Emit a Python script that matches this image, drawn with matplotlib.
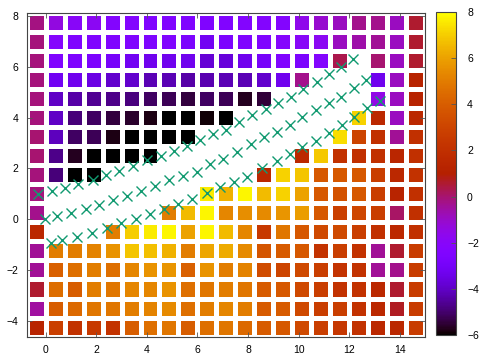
"""
plot.py
=======

Masked heat map on a 0.75-unit grid (gnuplot palette) with three
rows of cross markers running through the masked band.

Output:
    out.png
"""

from __future__ import annotations

import matplotlib

matplotlib.use("Agg")
import matplotlib.pyplot as plt  # noqa: E402
import numpy as np  # noqa: E402

nan = float("nan")

# cell centres (0.75 pitch)
x_centers = [-0.375 + 0.75 * i for i in range(21)]
y_centers = [7.75 - 0.75 * j for j in range(17)]

# cell values, top row first (y = 7.75 ... -4.25); nan = masked cell
z_rows = [
    [-0.2, -1.4, -2.0, -1.8, -2.3, -2.3, -2.5, -2.5, -2.5, -2.5, -2.4, -2.3, -2.3, -2.3, -1.6, -1.1, -0.9, -0.3, -0.3, -0.9, 0.6],
    [-0.1, -2.2, -2.5, -2.5, -2.5, -2.5, -2.6, -2.5, -2.7, -3.2, -2.7, -2.5, -2.5, -2.2, -2.0, -1.8, -0.9, -0.6, -0.4, -0.9, 0.6],
    [-0.1, -2.5, -2.6, -2.7, -2.9, -3.2, -3.3, -3.3, -3.3, -3.8, -3.7, -3.3, -2.9, -2.5, -2.7, -2.3, 0.3, nan, 0.0, -0.9, 0.6],
    [-0.1, -3.2, -3.3, -3.5, -3.9, -3.9, -4.2, -4.2, -4.4, -4.3, -4.2, -4.2, -3.9, -3.3, -0.3, nan, nan, nan, -3.3, -0.9, 1.2],
    [-0.1, -4.0, -4.4, -4.6, -4.7, -4.8, -5.1, -5.2, -5.4, -5.1, -5.2, -5.7, -5.5, nan, nan, nan, nan, nan, -1.5, -0.9, 1.2],
    [-0.1, -4.0, -4.9, -5.1, -5.4, -5.6, -5.8, -6.0, -6.0, -5.9, -6.0, nan, nan, nan, nan, nan, nan, 7.1, 1.5, -0.9, 1.5],
    [0.0, -4.1, -5.1, -5.2, -5.8, -6.0, -6.0, -6.0, -6.0, nan, nan, nan, nan, nan, nan, nan, 7.3, 3.0, 2.0, -0.4, 2.0],
    [0.0, -4.7, -5.7, -6.0, -6.0, -6.0, -6.0, nan, nan, nan, nan, nan, nan, nan, 1.5, 6.9, 2.1, 2.0, 2.0, 1.4, 2.0],
    [-0.1, -4.9, -6.0, -6.0, nan, nan, nan, nan, nan, nan, nan, nan, 1.5, 7.1, 6.8, 3.8, 3.8, 3.8, 2.7, 1.5, 2.1],
    [-0.1, nan, nan, nan, nan, nan, nan, nan, nan, 7.6, 6.4, 7.8, 6.6, 7.1, 6.0, 3.8, 3.6, 3.8, 2.7, 1.3, 2.0],
    [-0.3, nan, nan, nan, nan, nan, nan, 5.0, 6.6, 7.8, 5.3, 5.5, 5.4, 5.7, 5.9, 3.8, 2.8, 3.1, 2.7, 0.1, 2.0],
    [1.5, nan, nan, nan, 5.0, 7.0, 7.6, 7.8, 6.0, 7.8, 6.6, 5.3, 2.5, 4.8, 3.8, 3.2, 3.2, 2.7, 2.0, 1.6, 2.0],
    [-0.4, 5.0, 5.0, 5.2, 5.6, 6.8, 6.7, 6.4, 5.0, 6.1, 6.2, 5.4, 3.7, 3.9, 3.8, 2.2, 2.7, 2.1, -0.4, 0.6, 2.6],
    [-0.4, 4.1, 4.6, 5.0, 4.6, 5.3, 5.6, 5.7, 4.1, 5.6, 5.0, 5.2, 3.3, 3.0, 3.2, 2.7, 2.2, 2.1, -0.4, -0.3, 2.6],
    [0.6, 4.5, 4.0, 5.0, 4.8, 5.3, 5.3, 5.6, 4.6, 4.8, 5.0, 4.8, 3.9, 3.8, 3.2, 2.7, 2.1, 2.1, 1.5, 0.6, 2.6],
    [-0.5, 4.0, 4.4, 4.8, 4.8, 5.0, 5.2, 5.4, 4.6, 5.0, 5.3, 5.0, 3.9, 3.9, 3.2, 2.7, 2.7, 2.1, 1.5, 0.7, 2.6],
    [1.3, 2.8, 2.1, 2.5, 2.2, 4.0, 4.6, 4.8, 4.0, 4.6, 4.8, 4.4, 3.9, 3.8, 3.2, 2.7, 2.4, 2.1, 1.5, 1.5, 2.6],
]

# the three rows of cross markers
top_x = [-0.29, 0.24, 0.76, 1.29, 1.86, 2.38, 2.91, 3.47, 4.02, 4.57, 5.06, 5.59, 6.09,
         6.62, 7.12, 7.64, 8.17, 8.70, 9.19, 9.69, 10.19, 10.72, 11.20, 11.66, 12.17]
top_y = [1.00, 1.11, 1.24, 1.40, 1.56, 1.73, 1.90, 2.08, 2.32, 2.48, 2.69, 2.87, 3.11,
         3.34, 3.50, 3.84, 4.10, 4.33, 4.56, 4.82, 5.11, 5.41, 5.72, 6.00, 6.30]
mid_x = [-0.03, 0.46, 0.99, 1.58, 2.11, 2.68, 3.23, 3.76, 4.31, 4.88, 5.44, 6.00, 6.48,
         7.01, 7.58, 8.11, 8.63, 9.13, 9.66, 10.15, 10.68, 11.20, 11.66, 12.19, 12.65]
mid_y = [0.00, 0.13, 0.26, 0.39, 0.56, 0.76, 0.91, 1.12, 1.31, 1.54, 1.70, 1.87, 2.19,
         2.38, 2.66, 2.96, 3.22, 3.44, 3.71, 4.01, 4.30, 4.56, 4.82, 5.15, 5.48]
bot_x = [0.20, 0.66, 1.25, 1.85, 2.44, 2.97, 3.56, 4.13, 4.68, 5.23, 5.80, 6.37, 6.89,
         7.45, 7.97, 8.57, 9.13, 9.66, 10.15, 10.68, 11.20, 11.73, 12.19, 12.72, 13.21]
bot_y = [-0.95, -0.82, -0.69, -0.53, -0.36, -0.16, -0.01, 0.19, 0.39, 0.60, 0.78, 1.02, 1.26,
         1.48, 1.67, 2.00, 2.30, 2.57, 2.85, 3.09, 3.38, 3.71, 4.01, 4.37, 4.67]

x_ticks = [0, 2, 4, 6, 8, 10, 12, 14]
y_ticks = [-4, -2, 0, 2, 4, 6, 8]
cb_ticks = [-6, -4, -2, 0, 2, 4, 6, 8]

W, H = 484, 357  # output size, pixels


def main() -> None:
    plt.rcParams["font.family"] = ["Liberation Sans", "DejaVu Sans"]
    plt.rcParams["font.size"] = 7.5

    xc = np.array(x_centers)
    yc = np.array(y_centers)
    z = np.ma.masked_invalid(np.array(z_rows, dtype=float))
    x_edges = np.append(xc - 0.375, xc[-1] + 0.375)
    y_edges = np.append(yc + 0.375, yc[-1] - 0.375)

    fig = plt.figure(figsize=(W / 100, H / 100), dpi=100)
    ax = fig.add_axes([26.7 / W, (H - 336.6) / H, 398.3 / W, 323.8 / H])

    mesh = ax.pcolormesh(
        x_edges, y_edges, z, cmap="gnuplot", vmin=-6, vmax=8,
        edgecolors="white", linewidth=2.2, zorder=1,
    )

    for xs, ys in ((top_x, top_y), (mid_x, mid_y), (bot_x, bot_y)):
        ax.plot(xs, ys, linestyle="none", marker="x", markersize=7,
                markeredgewidth=1.0, color="#119a70", zorder=3)

    ax.set_xlim(-0.75, 15.0)
    ax.set_ylim(-4.625, 8.125)
    ax.set_xticks(x_ticks)
    ax.set_yticks(y_ticks)
    ax.tick_params(direction="in", top=True, right=True, length=3.5,
                   width=0.6, color="#555555", pad=6, labelsize=7.5)
    for sp in ax.spines.values():
        sp.set_color("#444444")
        sp.set_linewidth(0.8)
        sp.set_zorder(4)

    cax = fig.add_axes([435.7 / W, (H - 335.0) / H, 20.3 / W, 323.0 / H])
    cb = fig.colorbar(mesh, cax=cax, ticks=cb_ticks)
    cb.outline.set_edgecolor("#444444")
    cb.outline.set_linewidth(0.8)
    cax.tick_params(direction="in", length=3.5, width=0.6, color="#555555",
                    pad=8, labelsize=7.5)

    fig.savefig("out.png", dpi=100)
    plt.close(fig)


if __name__ == "__main__":
    main()
